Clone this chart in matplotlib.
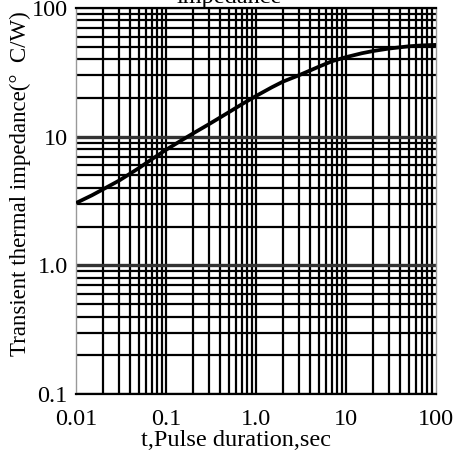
import numpy as np
import matplotlib
matplotlib.use('Agg')
import matplotlib.pyplot as plt
from matplotlib.ticker import FixedLocator, NullLocator

# pulse duration (s) and transient thermal impedance (C/W)
t_sec = [0.01, 0.015, 0.02, 0.03, 0.05, 0.07, 0.1, 0.15, 0.2, 0.3, 0.5, 0.7, 1.0,
         1.5, 2.0, 3.0, 5.0, 7.0, 10, 15, 20, 30, 50, 70, 100]
z_th = [3.05, 3.5, 3.9, 4.55, 5.7, 6.7, 7.9, 9.4, 10.6, 12.5, 15.5, 17.9, 20.7,
        24.2, 26.8, 30.0, 35.0, 38.6, 41.5, 44.5, 46.3, 48.4, 50.4, 51.2, 51.7]

x_ticks = [0.01, 0.1, 1.0, 10, 100]
x_labels = ['0.01', '0.1', '1.0', '10', '100']
y_ticks = [0.1, 1.0, 10, 100]
y_labels = ['0.1', '1.0', '10', '100']

plt.rcParams['font.family'] = ['Liberation Serif', 'DejaVu Serif']
fs = 17.5

fig = plt.figure(figsize=(4.56, 4.58), dpi=100)
W, H = 456, 458
ax = fig.add_axes([76 / W, 1 - 394 / H, 360 / W, 386 / H])
ax.set_xscale('log')
ax.set_yscale('log')
ax.set_xlim(0.01, 100)
ax.set_ylim(0.1, 100)

# grid: 1..9 x each decade
xs = [m * 10.0 ** e for e in range(-2, 2) for m in range(1, 10)] + [100]
ys = [m * 10.0 ** e for e in range(-1, 2) for m in range(1, 10)] + [100]
for x in xs[1:-1]:
    ax.axvline(x, color='black', lw=1.6, zorder=1)
for y in ys:
    if y in (1.0, 10):
        ax.axhline(y, color='0.2', lw=2.4, zorder=1)
    else:
        ax.axhline(y, color='black', lw=1.6, zorder=1)

ax.plot(t_sec, z_th, color='black', lw=2.7, zorder=3, solid_capstyle='butt')

ax.xaxis.set_major_locator(FixedLocator(x_ticks))
ax.xaxis.set_minor_locator(NullLocator())
ax.yaxis.set_major_locator(FixedLocator(y_ticks))
ax.yaxis.set_minor_locator(NullLocator())
ax.set_xticklabels(x_labels)
ax.set_yticklabels(y_labels)
ax.tick_params(axis='both', length=0, labelsize=fs)
ax.tick_params(axis='x', pad=11)
ax.tick_params(axis='y', pad=6)

for side in ['left', 'right']:
    ax.spines[side].set_color('0.6')
    ax.spines[side].set_linewidth(1.0)
for side in ['top', 'bottom']:
    ax.spines[side].set_color('black')
    ax.spines[side].set_linewidth(1.6)

fig.text(236 / W, 1 - 441 / H, 't,Pulse duration,sec', ha='center', va='center', fontsize=fs)
fig.text(20 / W, 1 - 184 / H, 'Transient thermal impedance(°  C/W)', ha='center', va='center',
         rotation=90, fontsize=16.5)
fig.text(229 / W, 1 - 8 / H, 'Transient thermal\nimpedance', ha='center', va='bottom', fontsize=fs)

fig.savefig('out.png', dpi=100)
